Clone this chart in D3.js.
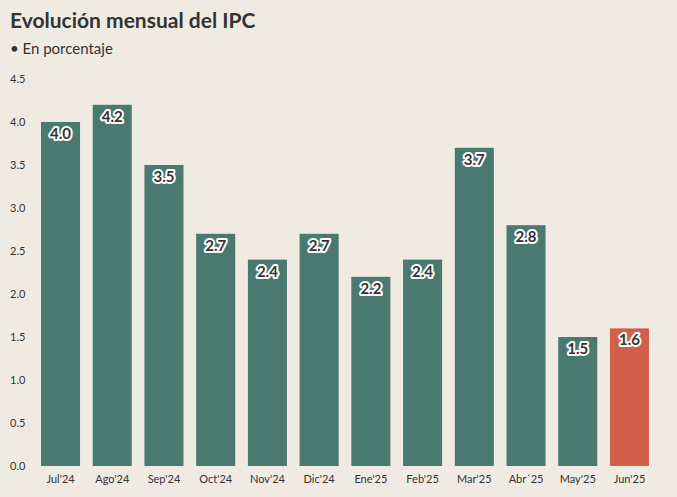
<!DOCTYPE html>
<html><head><meta charset="utf-8">
<script src="https://cdn.jsdelivr.net/npm/d3@7/dist/d3.min.js"></script>
<style>
html,body{margin:0;padding:0;background:#f0ebe2;}
svg{display:block;font-family:"Lato","Noto Sans",sans-serif;}
</style></head><body>
<svg id="c" width="677" height="497"></svg>
<script>
const categories = ["Jul'24","Ago'24","Sep'24","Oct'24","Nov'24","Dic'24","Ene'25","Feb'25","Mar'25","Abr\u00b4'25".replace("\u00b4'","\u00b4"),"May'25","Jun'25"];
const values = [4.0,4.2,3.5,2.7,2.4,2.7,2.2,2.4,3.7,2.8,1.5,1.6];
const yTicks = [0,0.5,1,1.5,2,2.5,3,3.5,4,4.5];
const highlight = "Jun'25";
const title = "Evolución mensual del IPC";
const subtitle = "• En porcentaje";

const svg = d3.select("#c");
svg.append("rect").attr("width",677).attr("height",497).attr("fill","#f0ebe2");

svg.append("text").attr("x",10).attr("y",28).text(title)
  .attr("font-size",21).attr("font-weight",700).attr("fill","#333");
svg.append("text").attr("x",10).attr("y",54).text(subtitle)
  .attr("font-size",15).attr("fill","#333");

const x = d3.scaleBand().domain(categories).range([41,649]).paddingInner(0.245).paddingOuter(0);
const y = d3.scaleLinear().domain([0,4.5]).range([466,79]);

const yAxis = svg.append("g").attr("transform","translate(10,0)")
  .call(d3.axisRight(y).tickValues(yTicks).tickFormat(d3.format(".1f")).tickSize(0).tickPadding(0));
yAxis.select(".domain").remove();
yAxis.selectAll("text").attr("font-size",11).attr("fill","#333").attr("font-family","Lato, 'Noto Sans', sans-serif");

svg.append("g").selectAll("rect").data(categories).join("rect")
  .attr("x",d=>x(d)).attr("width",x.bandwidth())
  .attr("y",(d,i)=>y(values[i])).attr("height",(d,i)=>y(0)-y(values[i]))
  .attr("fill",d=>d===highlight?"#d35f4b":"#4a7a6f");

const xAxis = svg.append("g").attr("transform","translate(0,466)")
  .call(d3.axisBottom(x).tickSize(0).tickPadding(9));
xAxis.select(".domain").remove();
xAxis.selectAll("text").attr("font-size",11).attr("fill","#333").attr("font-family","Lato, 'Noto Sans', sans-serif");

const lab = svg.append("g").selectAll("text").data(categories).join("text")
  .attr("x",d=>x(d)+x.bandwidth()/2).attr("y",(d,i)=>y(values[i])+17)
  .attr("text-anchor","middle").attr("font-size",15).attr("font-weight",700)
  .attr("fill","#333").attr("stroke","#fff").attr("stroke-width",4)
  .attr("stroke-linejoin","round").attr("paint-order","stroke")
  .text((d,i)=>d3.format(".1f")(values[i]));
</script>
</body></html>
